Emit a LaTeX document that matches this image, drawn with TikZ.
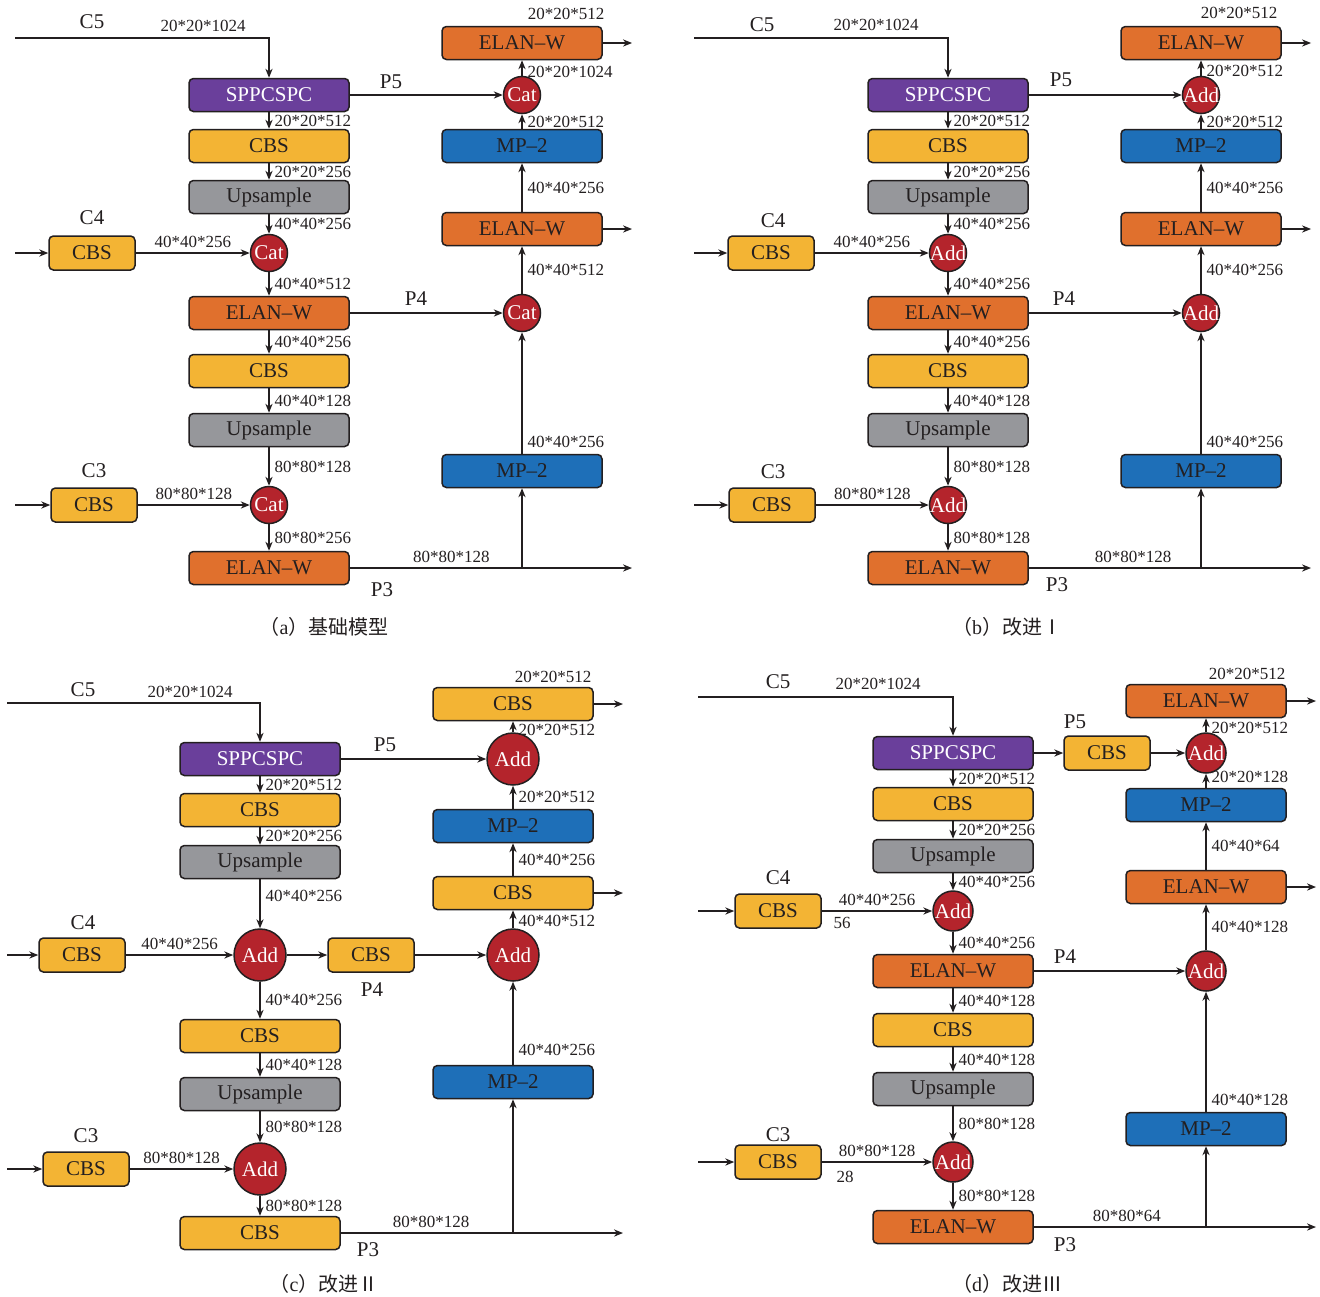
\documentclass[tikz,border=0pt]{standalone}
\usepackage{fontspec}
\setmainfont{Liberation Serif}
\newfontfamily\cjkfont{Noto Sans CJK SC}
\usetikzlibrary{arrows.meta}

\definecolor{sppviolet}{RGB}{106,63,155}
\definecolor{cbsyellow}{RGB}{243,180,52}
\definecolor{upsgray}{RGB}{150,151,155}
\definecolor{elanorange}{RGB}{224,112,45}
\definecolor{mpblue}{RGB}{30,111,184}
\definecolor{jointred}{RGB}{180,36,44}
\definecolor{inkline}{RGB}{35,31,32}

\newcommand\jtext[1]{\makebox[0pt]{#1}}

\begin{document}
\begin{tikzpicture}[
		x=0.5pt, y=-0.5pt,
		line width=0.65pt, color=inkline,
		arrow/.style={-{Stealth[length=4.5pt,width=3.6pt]}},
		block/.style={draw=inkline, line width=0.75pt, rounded corners=2.2pt, minimum width=80pt, minimum height=16.5pt, inner sep=0pt, font=\rmfamily\fontsize{10.5}{12}\selectfont},
		narrow/.style={minimum width=43pt, minimum height=17pt},
		spp/.style={block, fill=sppviolet, text=white},
		cbs/.style={block, fill=cbsyellow},
		ups/.style={block, fill=upsgray},
		elan/.style={block, fill=elanorange},
		mp/.style={block, fill=mpblue},
		joint/.style={circle, draw=inkline, line width=0.75pt, fill=jointred, text=white, inner sep=0pt, minimum size=18.5pt, font=\rmfamily\fontsize{10.5}{12}\selectfont},
		bigjoint/.style={joint, minimum size=26pt},
		midjoint/.style={joint, minimum size=20pt},
		dim/.style={inner sep=2.5pt, font=\fontsize{8.5}{10}\selectfont, text=inkline},
		tag/.style={inner sep=0pt, font=\fontsize{10.5}{12}\selectfont, text=inkline},
		caption/.style={inner sep=0pt, font=\fontsize{10}{12}\selectfont, text=inkline},
	]
		\useasboundingbox (0,0) rectangle (1320,1296);

		% (a)
		\coordinate (ac5) at (15,38);
		\node (aspp) [spp] at (269,95) {SPPCSPC};
		\node (acbs1) [cbs] at (269,146) {CBS};
		\node (aups1) [ups] at (269,197) {Upsample};
		\node (acat1) [joint] at (269,253) {\jtext{Cat}};
		\coordinate (ain4) at (15,253);
		\node (acbs4) [cbs, narrow] at (92,253) {CBS};
		\node (aelan1) [elan] at (269,313) {ELAN--W};
		\node (acbs2) [cbs] at (269,371) {CBS};
		\node (aups2) [ups] at (269,430) {Upsample};
		\node (acat2) [joint] at (269,505) {\jtext{Cat}};
		\coordinate (ain3) at (15,505);
		\node (acbs3) [cbs, narrow] at (94,505) {CBS};
		\node (aelan2) [elan] at (269,568) {ELAN--W};
		\coordinate (aout3) at (632,568);
		\node (amp1) [mp] at (522,471) {MP--2};
		\coordinate (abr) at (amp1 |- aout3);
		\node (acat3) [joint] at (522,313) {\jtext{Cat}};
		\node (aelan3) [elan] at (522,229) {ELAN--W};
		\coordinate (aout4) at (632,229);
		\node (amp2) [mp] at (522,146) {MP--2};
		\node (acat4) [joint] at (522,95) {\jtext{Cat}};
		\node (aelan4) [elan] at (522,43) {ELAN--W};
		\coordinate (aout5) at (632,43);

		\node (ac5tag) [tag] at (92,22) {C5};
		\node (ac4tag) [tag] at (92,218) {C4};
		\node (ac3tag) [tag] at (94,471) {C3};
		\node (ap5tag) [tag] at (391,82) {P5};
		\node (ap4tag) [tag] at (416,299) {P4};
		\node (ap3tag) [tag] at (382,590) {P3};
		\node (ain5dim) [dim] at (203,26) {20*20*1024};
		\node (aout5dim) [dim] at (566,14) {20*20*512};

		\draw[arrow] (ac5) -| (aspp);
		\draw[arrow] (aspp) -- node[dim, right] {20*20*512} (acbs1);
		\draw[arrow] (acbs1) -- node[dim, right] {20*20*256} (aups1);
		\draw[arrow] (aups1) -- node[dim, right] {40*40*256} (acat1);
		\draw[arrow] (ain4) -- (acbs4);
		\draw[arrow] (acbs4) -- node[dim, above] {40*40*256} (acat1);
		\draw[arrow] (acat1) -- node[dim, right] {40*40*512} (aelan1);
		\draw[arrow] (aelan1) -- node[dim, right] {40*40*256} (acbs2);
		\draw[arrow] (acbs2) -- node[dim, right] {40*40*128} (aups2);
		\draw[arrow] (aups2) -- node[dim, right] {80*80*128} (acat2);
		\draw[arrow] (ain3) -- (acbs3);
		\draw[arrow] (acbs3) -- node[dim, above] {80*80*128} (acat2);
		\draw[arrow] (acat2) -- node[dim, right] {80*80*256} (aelan2);
		\draw[arrow] (aelan2) -- node[dim, above, pos=0.36] {80*80*128} (aout3);
		\draw[arrow] (abr) -- (amp1);
		\draw[arrow] (amp1) -- node[dim, right, pos=0.1] {40*40*256} (acat3);
		\draw[arrow] (aelan1) -- (acat3);
		\draw[arrow] (acat3) -- node[dim, right] {40*40*512} (aelan3);
		\draw[arrow] (aelan3) -- (aout4);
		\draw[arrow] (aelan3) -- node[dim, right] {40*40*256} (amp2);
		\draw[arrow] (amp2) -- node[dim, right] {20*20*512} (acat4);
		\draw[arrow] (aspp) -- (acat4);
		\draw[arrow] (acat4) -- node[dim, right, pos=0.25] {20*20*1024} (aelan4);
		\draw[arrow] (aelan4) -- (aout5);
		\node (acap) [caption] at (324,627) {\cjkfont （\rmfamily a\cjkfont ）基础模型};

		% (b)
		\begin{scope}[shift={(679,0)}]
		\coordinate (bc5) at (15,38);
		\node (bspp) [spp] at (269,95) {SPPCSPC};
		\node (bcbs1) [cbs] at (269,146) {CBS};
		\node (bups1) [ups] at (269,197) {Upsample};
		\node (badd1) [joint] at (269,253) {\jtext{Add}};
		\coordinate (bin4) at (15,253);
		\node (bcbs4) [cbs, narrow] at (92,253) {CBS};
		\node (belan1) [elan] at (269,313) {ELAN--W};
		\node (bcbs2) [cbs] at (269,371) {CBS};
		\node (bups2) [ups] at (269,430) {Upsample};
		\node (badd2) [joint] at (269,505) {\jtext{Add}};
		\coordinate (bin3) at (15,505);
		\node (bcbs3) [cbs, narrow] at (93,505) {CBS};
		\node (belan2) [elan] at (269,568) {ELAN--W};
		\coordinate (bout3) at (632,568);
		\node (bmp1) [mp] at (522,471) {MP--2};
		\coordinate (bbr) at (bmp1 |- bout3);
		\node (badd3) [joint] at (522,313) {\jtext{Add}};
		\node (belan3) [elan] at (522,229) {ELAN--W};
		\coordinate (bout4) at (632,229);
		\node (bmp2) [mp] at (522,146) {MP--2};
		\node (badd4) [joint] at (522,95) {\jtext{Add}};
		\node (belan4) [elan] at (522,43) {ELAN--W};
		\coordinate (bout5) at (632,43);

		\node (bc5tag) [tag] at (83,25) {C5};
		\node (bc4tag) [tag] at (94,221) {C4};
		\node (bc3tag) [tag] at (94,472) {C3};
		\node (bp5tag) [tag] at (382,80) {P5};
		\node (bp4tag) [tag] at (385,299) {P4};
		\node (bp3tag) [tag] at (378,585) {P3};
		\node (bin5dim) [dim] at (197,25) {20*20*1024};
		\node (bout5dim) [dim] at (560,13) {20*20*512};

		\draw[arrow] (bc5) -| (bspp);
		\draw[arrow] (bspp) -- node[dim, right] {20*20*512} (bcbs1);
		\draw[arrow] (bcbs1) -- node[dim, right] {20*20*256} (bups1);
		\draw[arrow] (bups1) -- node[dim, right] {40*40*256} (badd1);
		\draw[arrow] (bin4) -- (bcbs4);
		\draw[arrow] (bcbs4) -- node[dim, above] {40*40*256} (badd1);
		\draw[arrow] (badd1) -- node[dim, right] {40*40*256} (belan1);
		\draw[arrow] (belan1) -- node[dim, right] {40*40*256} (bcbs2);
		\draw[arrow] (bcbs2) -- node[dim, right] {40*40*128} (bups2);
		\draw[arrow] (bups2) -- node[dim, right] {80*80*128} (badd2);
		\draw[arrow] (bin3) -- (bcbs3);
		\draw[arrow] (bcbs3) -- node[dim, above] {80*80*128} (badd2);
		\draw[arrow] (badd2) -- node[dim, right] {80*80*128} (belan2);
		\draw[arrow] (belan2) -- node[dim, above, pos=0.37] {80*80*128} (bout3);
		\draw[arrow] (bbr) -- (bmp1);
		\draw[arrow] (bmp1) -- node[dim, right, pos=0.1] {40*40*256} (badd3);
		\draw[arrow] (belan1) -- (badd3);
		\draw[arrow] (badd3) -- node[dim, right] {40*40*256} (belan3);
		\draw[arrow] (belan3) -- (bout4);
		\draw[arrow] (belan3) -- node[dim, right] {40*40*256} (bmp2);
		\draw[arrow] (bmp2) -- node[dim, right] {20*20*512} (badd4);
		\draw[arrow] (bspp) -- (badd4);
		\draw[arrow] (badd4) -- node[dim, right, pos=0.3] {20*20*512} (belan4);
		\draw[arrow] (belan4) -- (bout5);
		\node (bcap) [caption] at (328,627) {\cjkfont （\rmfamily b\cjkfont ）改进Ⅰ};
		\end{scope}

		% (c)
		\coordinate (cc5) at (7,703);
		\node (cspp) [spp] at (260,759) {SPPCSPC};
		\node (ccbs1) [cbs] at (260,810) {CBS};
		\node (cups1) [ups] at (260,862) {Upsample};
		\node (cadd1) [bigjoint] at (260,955) {\jtext{Add}};
		\coordinate (cin4) at (7,955);
		\node (ccbs4) [cbs, narrow] at (82,955) {CBS};
		\node (ccbs5) [cbs, narrow] at (371,955) {CBS};
		\node (cadd2) [bigjoint] at (513,955) {\jtext{Add}};
		\node (ccbs6) [cbs] at (513,893) {CBS};
		\coordinate (cout4) at (623,893);
		\node (cmp1) [mp] at (513,826) {MP--2};
		\node (cadd3) [bigjoint] at (513,759) {\jtext{Add}};
		\node (ccbs7) [cbs] at (513,704) {CBS};
		\coordinate (cout5) at (623,704);
		\node (ccbs2) [cbs] at (260,1036) {CBS};
		\node (cups2) [ups] at (260,1094) {Upsample};
		\node (cadd4) [bigjoint] at (260,1169) {\jtext{Add}};
		\coordinate (cin3) at (7,1169);
		\node (ccbs3) [cbs, narrow] at (86,1169) {CBS};
		\node (ccbs8) [cbs] at (260,1233) {CBS};
		\coordinate (cout3) at (623,1233);
		\node (cmp2) [mp] at (513,1082) {MP--2};
		\coordinate (cbr) at (cmp2 |- cout3);

		\node (cc5tag) [tag] at (83,690) {C5};
		\node (cc4tag) [tag] at (83,923) {C4};
		\node (cc3tag) [tag] at (86,1136) {C3};
		\node (cp5tag) [tag] at (385,745) {P5};
		\node (cp4tag) [tag] at (372,990) {P4};
		\node (cp3tag) [tag] at (368,1250) {P3};
		\node (cin5dim) [dim] at (190,692) {20*20*1024};
		\node (cout5dim) [dim] at (553,677) {20*20*512};

		\draw[arrow] (cc5) -| (cspp);
		\draw[arrow] (cspp) -- node[dim, right] {20*20*512} (ccbs1);
		\draw[arrow] (ccbs1) -- node[dim, right] {20*20*256} (cups1);
		\draw[arrow] (cups1) -- node[dim, right, pos=0.34] {40*40*256} (cadd1);
		\draw[arrow] (cin4) -- (ccbs4);
		\draw[arrow] (ccbs4) -- node[dim, above] {40*40*256} (cadd1);
		\draw[arrow] (cadd1) -- (ccbs5);
		\draw[arrow] (ccbs5) -- (cadd2);
		\draw[arrow] (cadd2) -- node[dim, right, pos=0.4] {40*40*512} (ccbs6);
		\draw[arrow] (ccbs6) -- (cout4);
		\draw[arrow] (ccbs6) -- node[dim, right] {40*40*256} (cmp1);
		\draw[arrow] (cmp1) -- node[dim, right] {20*20*512} (cadd3);
		\draw[arrow] (cspp) -- (cadd3);
		\draw[arrow] (cadd3) -- node[dim, right, pos=0.2] {20*20*512} (ccbs7);
		\draw[arrow] (ccbs7) -- (cout5);
		\draw[arrow] (cadd1) -- node[dim, right] {40*40*256} (ccbs2);
		\draw[arrow] (ccbs2) -- node[dim, right] {40*40*128} (cups2);
		\draw[arrow] (cups2) -- node[dim, right] {80*80*128} (cadd4);
		\draw[arrow] (cin3) -- (ccbs3);
		\draw[arrow] (ccbs3) -- node[dim, above] {80*80*128} (cadd4);
		\draw[arrow] (cadd4) -- node[dim, right] {80*80*128} (ccbs8);
		\draw[arrow] (ccbs8) -- node[dim, above, pos=0.32] {80*80*128} (cout3);
		\draw[arrow] (cbr) -- (cmp2);
		\draw[arrow] (cmp2) -- node[dim, right, pos=0.18] {40*40*256} (cadd2);
		\node (ccap) [caption] at (324,1284) {\cjkfont （\rmfamily c\cjkfont ）改进Ⅱ};

		% (d)
		\coordinate (dc5) at (698,697);
		\node (dspp) [spp] at (953,753) {SPPCSPC};
		\node (dcbs9) [cbs, narrow] at (1107,753) {CBS};
		\node (dadd3) [midjoint] at (1206,753) {\jtext{Add}};
		\node (delan3) [elan] at (1206,701) {ELAN--W};
		\coordinate (dout5) at (1316,701);
		\node (dmp1) [mp] at (1206,805) {MP--2};
		\node (delan4) [elan] at (1206,887) {ELAN--W};
		\coordinate (dout4) at (1316,887);
		\node (dadd2) [midjoint] at (1206,971) {\jtext{Add}};
		\node (dmp2) [mp] at (1206,1129) {MP--2};
		\node (dcbs1) [cbs] at (953,804) {CBS};
		\node (dups1) [ups] at (953,856) {Upsample};
		\node (dadd1) [midjoint] at (953,911) {\jtext{Add}};
		\coordinate (din4) at (698,911);
		\node (dcbs4) [cbs, narrow] at (778,911) {CBS};
		\node (delan1) [elan] at (953,971) {ELAN--W};
		\node (dcbs2) [cbs] at (953,1030) {CBS};
		\node (dups2) [ups] at (953,1089) {Upsample};
		\node (dadd4) [midjoint] at (953,1162) {\jtext{Add}};
		\coordinate (din3) at (698,1162);
		\node (dcbs3) [cbs, narrow] at (778,1162) {CBS};
		\node (delan2) [elan] at (953,1227) {ELAN--W};
		\coordinate (dout3) at (1316,1227);
		\coordinate (dbr) at (dmp2 |- dout3);

		\node (dc5tag) [tag] at (778,682) {C5};
		\node (dc4tag) [tag] at (778,878) {C4};
		\node (dc3tag) [tag] at (778,1135) {C3};
		\node (dp5tag) [tag] at (1075,722) {P5};
		\node (dp4tag) [tag] at (1065,957) {P4};
		\node (dp3tag) [tag] at (1065,1245) {P3};
		\node (din5dim) [dim] at (878,684) {20*20*1024};
		\node (dout5dim) [dim] at (1247,674) {20*20*512};
		\node (din4dim) [dim] at (842,923) {56};
		\node (din3dim) [dim] at (845,1177) {28};

		\draw[arrow] (dc5) -| (dspp);
		\draw[arrow] (dspp) -- (dcbs9);
		\draw[arrow] (dcbs9) -- (dadd3);
		\draw[arrow] (dadd3) -- node[dim, right, pos=0.28] {20*20*512} (delan3);
		\draw[arrow] (delan3) -- (dout5);
		\draw[arrow] (dmp1) -- node[dim, right, pos=0.8] {20*20*128} (dadd3);
		\draw[arrow] (delan4) -- node[dim, right] {40*40*64} (dmp1);
		\draw[arrow] (delan4) -- (dout4);
		\draw[arrow] (dadd2) -- node[dim, right] {40*40*128} (delan4);
		\draw[arrow] (dmp2) -- node[dim, right, pos=0.1] {40*40*128} (dadd2);
		\draw[arrow] (dbr) -- (dmp2);
		\draw[arrow] (dspp) -- node[dim, right] {20*20*512} (dcbs1);
		\draw[arrow] (dcbs1) -- node[dim, right] {20*20*256} (dups1);
		\draw[arrow] (dups1) -- node[dim, right] {40*40*256} (dadd1);
		\draw[arrow] (din4) -- (dcbs4);
		\draw[arrow] (dcbs4) -- node[dim, above] {40*40*256} (dadd1);
		\draw[arrow] (dadd1) -- node[dim, right] {40*40*256} (delan1);
		\draw[arrow] (delan1) -- (dadd2);
		\draw[arrow] (delan1) -- node[dim, right] {40*40*128} (dcbs2);
		\draw[arrow] (dcbs2) -- node[dim, right] {40*40*128} (dups2);
		\draw[arrow] (dups2) -- node[dim, right] {80*80*128} (dadd4);
		\draw[arrow] (din3) -- (dcbs3);
		\draw[arrow] (dcbs3) -- node[dim, above] {80*80*128} (dadd4);
		\draw[arrow] (dadd4) -- node[dim, right] {80*80*128} (delan2);
		\draw[arrow] (delan2) -- node[dim, above, pos=0.33] {80*80*64} (dout3);
		\node (dcap) [caption] at (1007,1284) {\cjkfont （\rmfamily d\cjkfont ）改进Ⅲ};
	\end{tikzpicture}
\end{document}
